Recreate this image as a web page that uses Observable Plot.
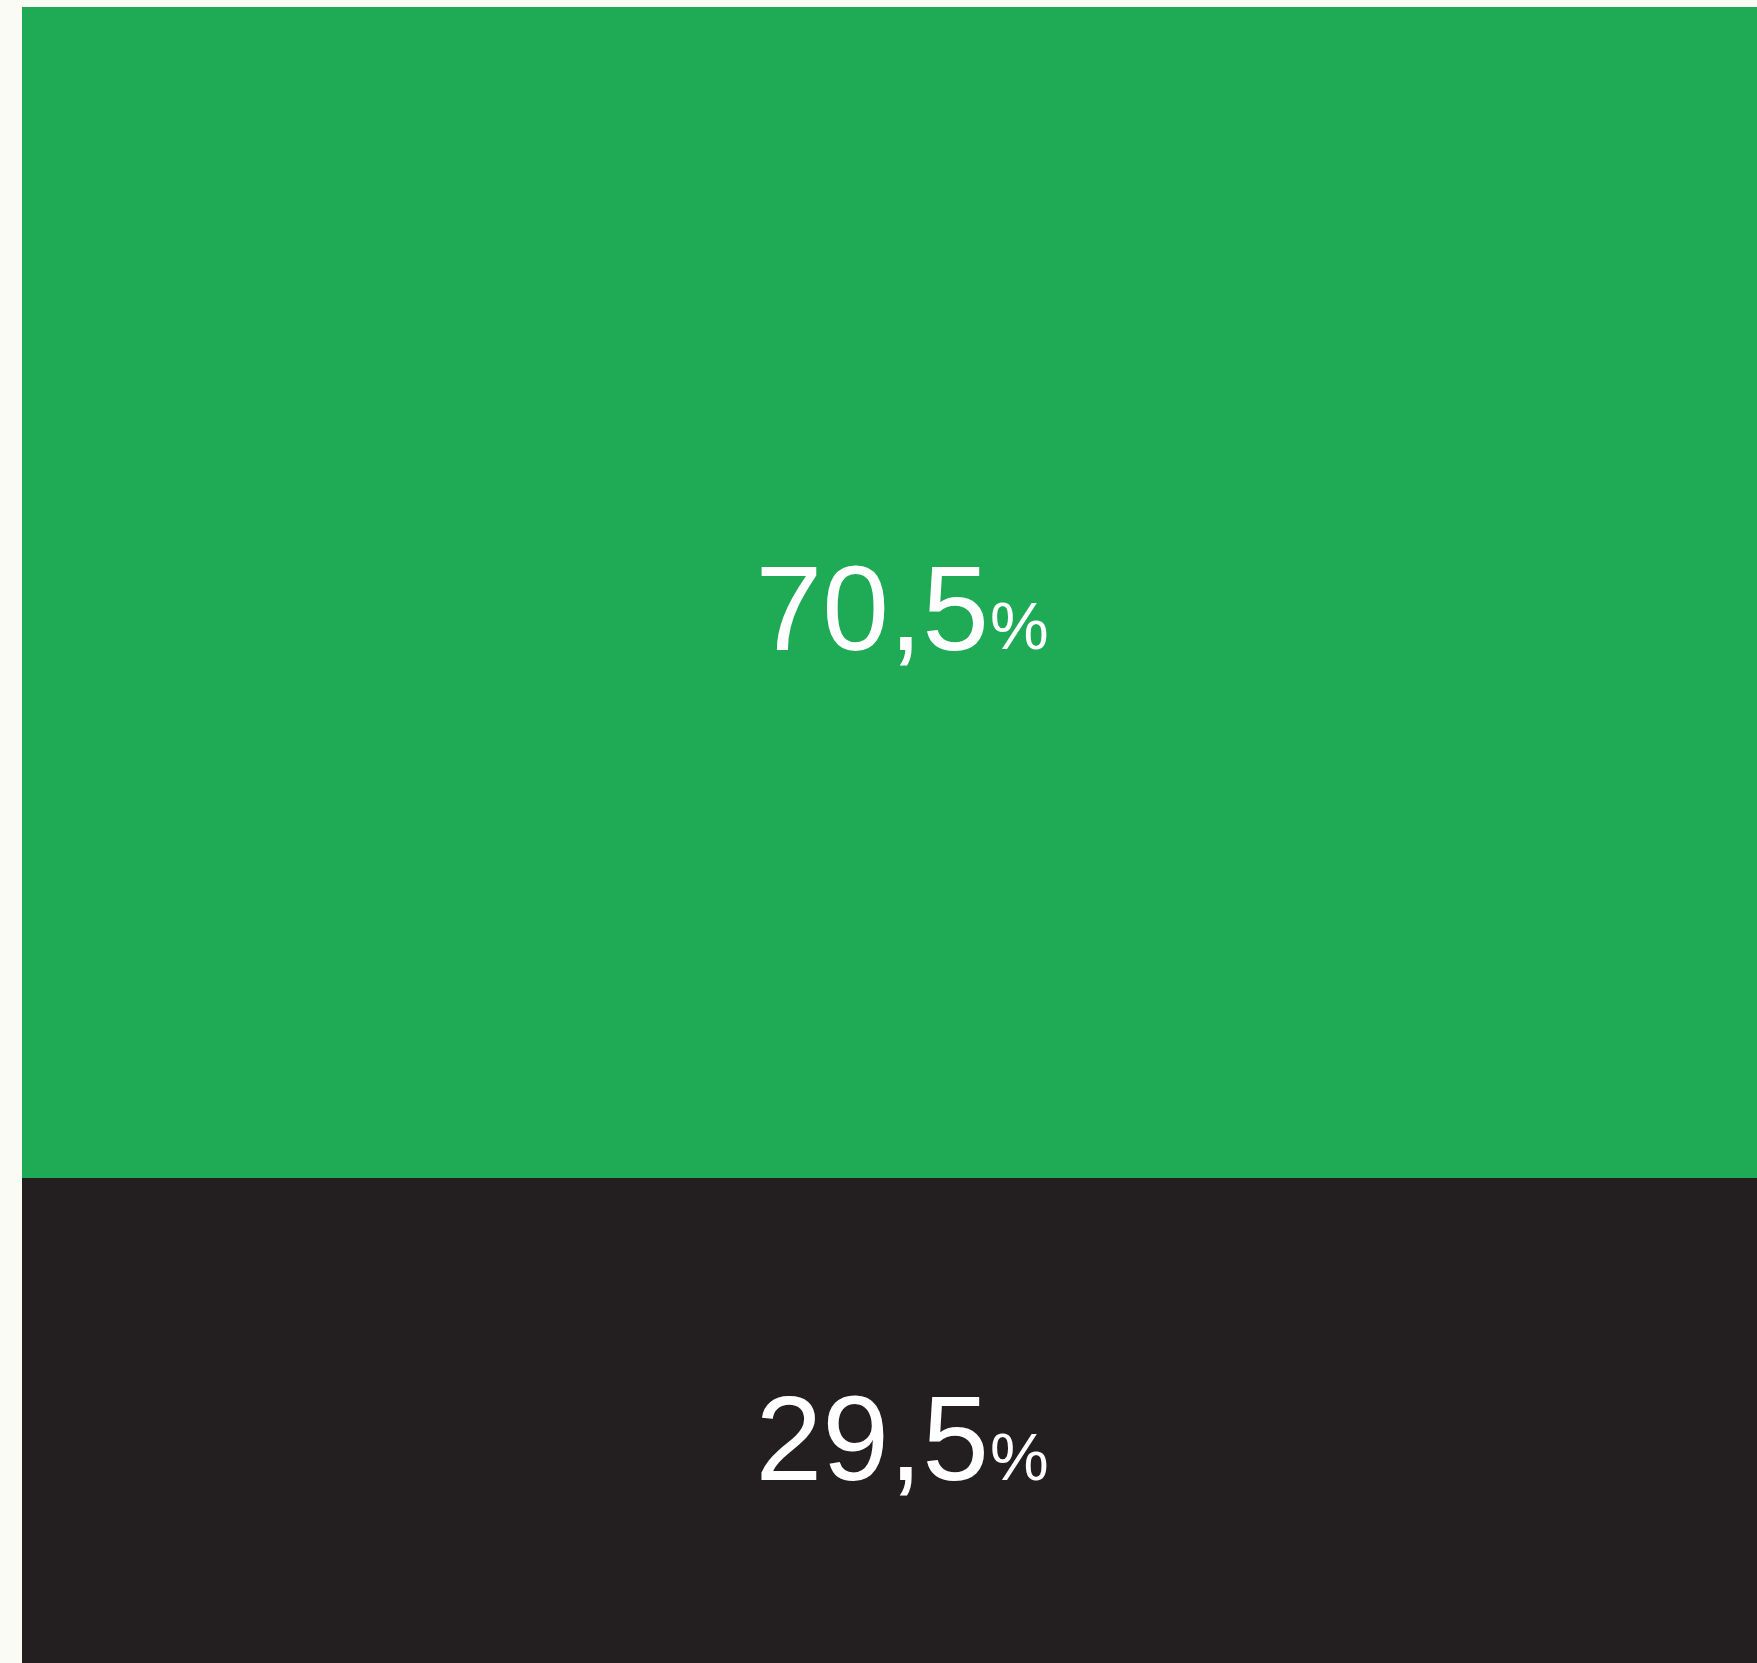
<!DOCTYPE html>
<html>
<head>
<meta charset="utf-8">
<script src="https://cdn.jsdelivr.net/npm/d3@7"></script>
<script src="https://cdn.jsdelivr.net/npm/@observablehq/plot@0.6"></script>
<style>
  html, body { margin: 0; padding: 0; background: #fafbf5; overflow: hidden; }
  #chart svg { display: block; }
</style>
</head>
<body>
<div id="chart"></div>
<script>
const categories = ["Ja", "Nein"];
const values = [70.5, 29.5];
const labels = ["70,5", "29,5"];
const colors = ["#1faa55", "#231f20"];

const data = categories.map((c, i) => ({group: "total", category: c, value: values[i], label: labels[i]}));
// stack order: bottom first
const stacked = [...data].reverse();

const W = 1757, H = 1663;
const fontFamily = "'Liberation Sans', Arial, Helvetica, sans-serif";

const chart = Plot.plot({
  width: W,
  height: H,
  marginTop: 0,
  marginLeft: 0,
  marginRight: 0,
  marginBottom: 0,
  style: {background: "transparent", fontFamily},
  x: {type: "band", domain: ["total"], range: [22, W], padding: 0, axis: null},
  y: {domain: [0, 100], range: [1668, 7], axis: null},
  color: {domain: categories, range: colors},
  marks: [
    Plot.barY(stacked, Plot.stackY({x: "group", y: "value", fill: "category", order: null, insetLeft: 0, insetRight: 0})),
    Plot.text(stacked, Plot.stackY({x: "group", y: "value", text: "label", order: null,
      fill: "white", fontSize: 120, textAnchor: "end", dx: 99, dy: 18.5, fontFamily})),
    Plot.text(stacked, Plot.stackY({x: "group", y: "value", text: () => "%", order: null,
      fill: "white", fontSize: 66, textAnchor: "start", dx: 100, dy: 35, fontFamily}))
  ]
});
document.getElementById("chart").appendChild(chart);
</script>
</body>
</html>
